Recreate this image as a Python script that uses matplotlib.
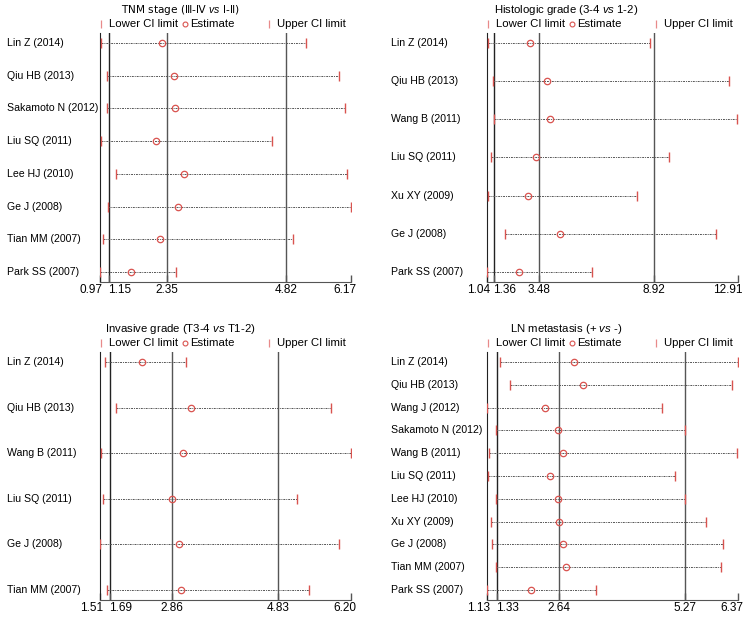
import numpy as np
import matplotlib
matplotlib.use("Agg")
import matplotlib.pyplot as plt
from matplotlib.transforms import blended_transform_factory, offset_copy

plt.rcParams["font.family"] = ["Liberation Sans", "DejaVu Sans"]
plt.rcParams["mathtext.fontset"] = "custom"
plt.rcParams["mathtext.it"] = "Liberation Sans:italic"
plt.rcParams["mathtext.rm"] = "Liberation Sans"

# TNM stage (III-IV vs I-II)
tnm_studies = ["Lin Z (2014)", "Qiu HB (2013)", "Sakamoto N (2012)", "Liu SQ (2011)",
               "Lee HJ (2010)", "Ge J (2008)", "Tian MM (2007)", "Park SS (2007)"]
tnm_lower = [1.00, 1.11, 1.11, 1.00, 1.30, 1.14, 1.03, 0.97]
tnm_est = [2.26, 2.50, 2.53, 2.12, 2.72, 2.59, 2.22, 1.62]
tnm_upper = [5.23, 5.92, 6.04, 4.54, 6.09, 6.17, 4.96, 2.54]
tnm_ticks = [0.97, 1.15, 2.35, 4.82, 6.17]

# Histologic grade (3-4 vs 1-2)
hist_studies = ["Lin Z (2014)", "Qiu HB (2013)", "Wang B (2011)", "Liu SQ (2011)",
                "Xu XY (2009)", "Ge J (2008)", "Park SS (2007)"]
hist_lower = [1.07, 1.31, 1.35, 1.21, 1.07, 1.89, 1.04]
hist_est = [3.07, 3.90, 4.03, 3.37, 2.96, 4.51, 2.57]
hist_upper = [8.73, 12.49, 12.88, 9.66, 8.12, 11.86, 5.99]
hist_ticks = [1.04, 1.36, 3.48, 8.92, 12.91]

# Invasive grade (T3-4 vs T1-2)
inv_studies = ["Lin Z (2014)", "Qiu HB (2013)", "Wang B (2011)", "Liu SQ (2011)",
               "Ge J (2008)", "Tian MM (2007)"]
inv_lower = [1.60, 1.80, 1.52, 1.56, 1.51, 1.64]
inv_est = [2.29, 3.21, 3.06, 2.85, 2.99, 3.02]
inv_upper = [3.11, 5.83, 6.20, 5.19, 5.98, 5.41]
inv_ticks = [1.51, 1.69, 2.86, 4.83, 6.20]

# LN metastasis (+ vs -)
ln_studies = ["Lin Z (2014)", "Qiu HB (2013)", "Wang J (2012)", "Sakamoto N (2012)",
              "Wang B (2011)", "Liu SQ (2011)", "Lee HJ (2010)", "Xu XY (2009)",
              "Ge J (2008)", "Tian MM (2007)", "Park SS (2007)"]
ln_lower = [1.40, 1.62, 1.13, 1.31, 1.17, 1.15, 1.31, 1.21, 1.23, 1.31, 1.14]
ln_est = [2.94, 3.13, 2.34, 2.61, 2.72, 2.44, 2.61, 2.63, 2.71, 2.78, 2.05]
ln_upper = [6.36, 6.24, 4.78, 5.26, 6.35, 5.06, 5.26, 5.71, 6.06, 6.01, 3.40]
ln_ticks = [1.13, 1.33, 2.64, 5.27, 6.37]

W, H = 748, 624
RED = "#d9534f"
PINK = "#e88a8a"
FS = 8.2

fig = plt.figure(figsize=(W / 100, H / 100), dpi=100)


def fx(px):
    return px / W


def fy(py):
    return 1 - py / H


def panel(left, top, bottom, title, tcx, label_x, studies, lower, est, upper, ticks,
          title_family=None):
    ax = fig.add_axes([fx(left), fy(bottom), fx(251), (bottom - top) / H])
    n = len(studies)
    y = np.arange(n)
    m = (n - 1) * 10 / (bottom - top - 20)
    for i in range(n):
        ax.plot([lower[i], upper[i]], [y[i], y[i]], color="#555555", lw=0.7,
                ls=(0, (2, 1, 1, 1)), zorder=2)
    ax.plot(lower, y, ls="none", marker="|", ms=7, mew=1.0, color=RED, zorder=3)
    ax.plot(upper, y, ls="none", marker="|", ms=7, mew=1.0, color=RED, zorder=3)
    ax.plot(est, y, ls="none", marker="o", ms=4.6, mfc="none", mec=RED, mew=0.9, zorder=4)
    ax.axvline(ticks[1], color="#222222", lw=1.0, zorder=1)
    ax.axvline(ticks[2], color="#555555", lw=1.0, zorder=1)
    ax.axvline(ticks[3], color="#555555", lw=1.0, zorder=1)
    ax.set_xlim(ticks[0], ticks[-1])
    ax.set_ylim(n - 1 + m, -m)
    ax.set_xticks(ticks)
    ax.set_xticklabels([])
    ax.set_yticks([])
    ax.tick_params(axis="x", direction="in", length=5, width=1, colors="#555555")
    for s in ["top", "right"]:
        ax.spines[s].set_visible(False)
    ax.spines["left"].set_color("#222222")
    ax.spines["bottom"].set_color("#555555")
    ax.patch.set_alpha(0)

    # tick labels, nudged apart like the original
    xtr = blended_transform_factory(ax.transData, ax.transAxes)
    aligns = [("right", 3), ("left", -1), ("center", 0), ("center", 0), ("right", 5)]
    for t, (ha, dx) in zip(ticks, aligns):
        ax.text(t, 0, "%.2f" % t, ha=ha, va="top", fontsize=8.5,
                transform=offset_copy(xtr, fig, x=dx, y=-2, units="dots"))

    tr = blended_transform_factory(fig.transFigure, ax.transData)
    for i, s in enumerate(studies):
        ax.text(fx(label_x), y[i], s, transform=tr, ha="left", va="center", fontsize=7.6)

    # title and key
    if title_family:
        fig.text(fx(tcx), fy(top - 23), title, ha="center", va="center", fontsize=7.6,
                 family=title_family)
    else:
        fig.text(fx(tcx), fy(top - 23), title, ha="center", va="center", fontsize=FS)
    ly = fy(top - 9)
    fig.lines.append(plt.Line2D([fx(left + 1)], [ly], marker="|", ms=6, mew=0.9,
                                color=PINK, transform=fig.transFigure))
    fig.text(fx(left + 9), ly, "Lower CI limit", ha="left", va="center", fontsize=FS)
    fig.lines.append(plt.Line2D([fx(left + 85)], [ly], marker="o", ms=3.5, mfc="none",
                                mec=RED, mew=0.8, color=RED, transform=fig.transFigure))
    fig.text(fx(left + 90), ly, "Estimate", ha="left", va="center", fontsize=FS)
    fig.lines.append(plt.Line2D([fx(left + 169)], [ly], marker="|", ms=6, mew=0.9,
                                color=PINK, transform=fig.transFigure))
    fig.text(fx(left + 177), ly, "Upper CI limit", ha="left", va="center", fontsize=FS)
    return ax


panel(100, 33, 282, "TNM stage (\u2162-\u2163 $\\mathit{vs}$ \u2160-\u2161)", 180, 7,
      tnm_studies, tnm_lower, tnm_est, tnm_upper, tnm_ticks,
      title_family=["DejaVu Sans"])
panel(487, 33, 282, "Histologic grade (3-4 $\\mathit{vs}$ 1-2)", 566, 391,
      hist_studies, hist_lower, hist_est, hist_upper, hist_ticks)
panel(100, 352, 600, "Invasive grade (T3-4 $\\mathit{vs}$ T1-2)", 180, 7,
      inv_studies, inv_lower, inv_est, inv_upper, inv_ticks)
panel(487, 352, 600, "LN metastasis (+ $\\mathit{vs}$ -)", 566, 391,
      ln_studies, ln_lower, ln_est, ln_upper, ln_ticks)

fig.savefig("out.png", dpi=100)
